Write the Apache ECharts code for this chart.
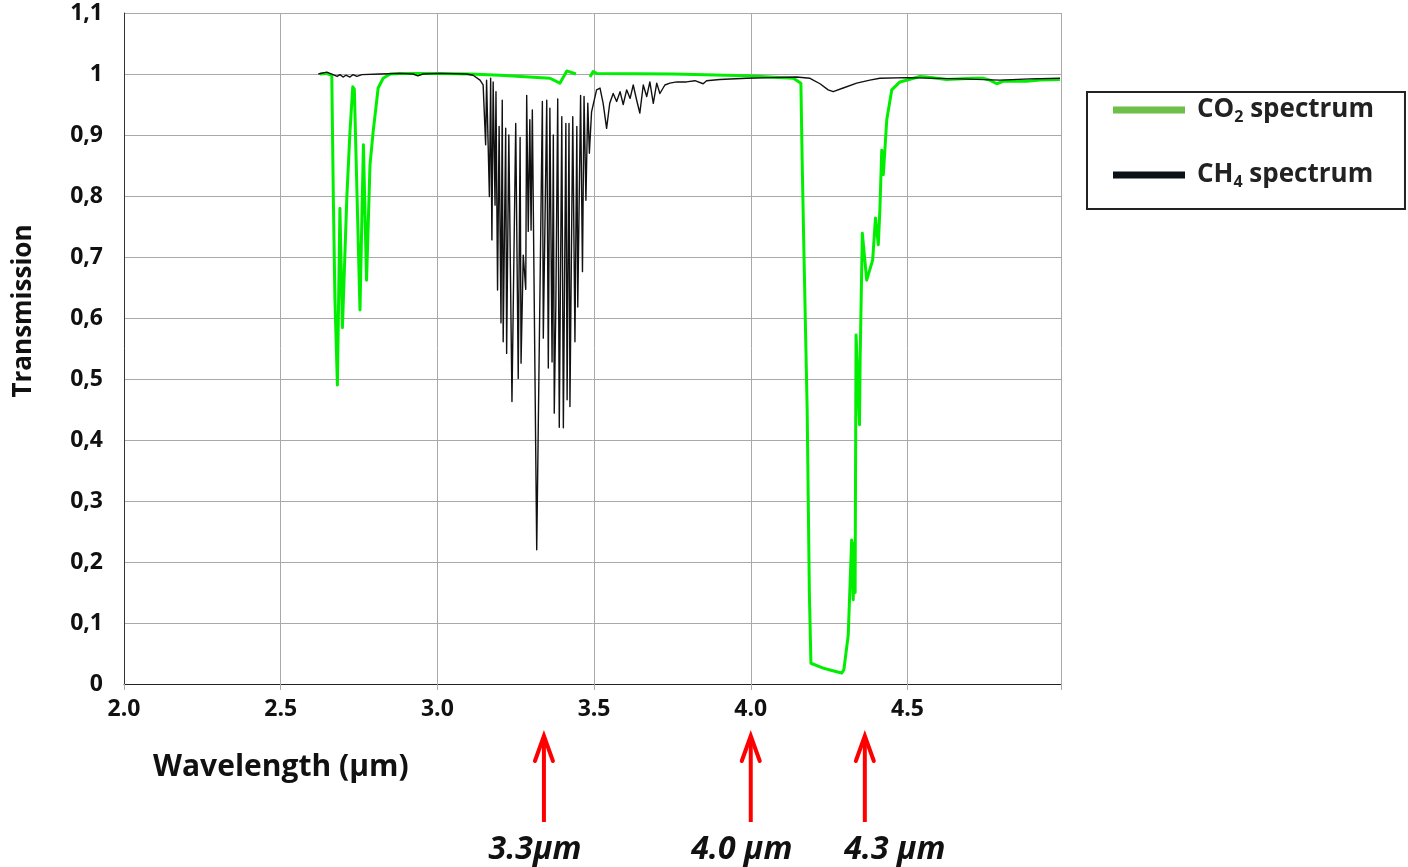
<!DOCTYPE html>
<html>
<head>
<meta charset="utf-8">
<script src="https://cdn.jsdelivr.net/npm/echarts@6/dist/echarts.min.js"></script>
<style>html,body{margin:0;padding:0;background:#fff}#c{width:1408px;height:867px}</style>
</head>
<body>
<div id="c"></div>
<script>
// ---- data (wavelength in µm, transmission) ----
const co2Wavelength = [2.625, 2.645, 2.663, 2.668, 2.673, 2.681, 2.689, 2.697, 2.711, 2.721, 2.730, 2.735, 2.753, 2.764, 2.774, 2.785, 2.795, 2.811, 2.827, 2.849, 2.881, 3.000, 3.104, 3.200, 3.359, 3.391, 3.413, 3.442, 3.465, 3.487, 3.497, 3.508, 3.752, 3.987, 4.136, 4.160, 4.164, 4.170, 4.180, 4.187, 4.192, 4.231, 4.253, 4.290, 4.297, 4.311, 4.322, 4.327, 4.330, 4.333, 4.336, 4.347, 4.349, 4.356, 4.370, 4.389, 4.398, 4.407, 4.412, 4.418, 4.423, 4.434, 4.450, 4.476, 4.540, 4.561, 4.625, 4.709, 4.741, 4.763, 4.785, 4.805, 4.880, 4.923, 4.987];
const co2Transmission = [1.000, 1.001, 0.998, 0.797, 0.633, 0.490, 0.780, 0.584, 0.797, 0.905, 0.979, 0.975, 0.613, 0.884, 0.662, 0.851, 0.905, 0.977, 0.993, 1.000, 1.001, 1.001, 1.000, 0.998, 0.993, 0.985, 1.005, 1.000, null, 0.995, 1.004, 1.001, 1.000, 0.997, 0.993, 0.985, 0.859, 0.700, 0.450, 0.150, 0.034, 0.026, 0.023, 0.018, 0.023, 0.080, 0.236, 0.138, 0.231, 0.150, 0.572, 0.425, 0.531, 0.739, 0.662, 0.695, 0.764, 0.720, 0.777, 0.875, 0.835, 0.925, 0.974, 0.987, 0.996, 0.995, 0.991, 0.993, 0.993, 0.990, 0.984, 0.988, 0.988, 0.990, 0.991];

const ch4Wavelength = [2.620, 2.647, 2.667, 2.680, 2.689, 2.699, 2.708, 2.721, 2.731, 2.743, 2.759, 2.817, 2.881, 2.922, 2.938, 2.954, 3.008, 3.093, 3.114, 3.136, 3.146, 3.154, 3.157, 3.166, 3.170, 3.174, 3.178, 3.184, 3.187, 3.192, 3.197, 3.203, 3.207, 3.210, 3.218, 3.221, 3.228, 3.238, 3.250, 3.258, 3.264, 3.267, 3.274, 3.282, 3.285, 3.290, 3.295, 3.299, 3.303, 3.317, 3.335, 3.338, 3.349, 3.354, 3.359, 3.366, 3.370, 3.373, 3.378, 3.384, 3.389, 3.397, 3.402, 3.410, 3.414, 3.420, 3.423, 3.432, 3.439, 3.445, 3.448, 3.457, 3.463, 3.468, 3.474, 3.480, 3.485, 3.492, 3.508, 3.519, 3.529, 3.540, 3.550, 3.561, 3.572, 3.583, 3.593, 3.604, 3.615, 3.625, 3.636, 3.646, 3.657, 3.668, 3.678, 3.689, 3.700, 3.710, 3.726, 3.742, 3.764, 3.795, 3.822, 3.848, 3.859, 3.901, 3.987, 4.072, 4.146, 4.189, 4.221, 4.247, 4.263, 4.295, 4.338, 4.380, 4.412, 4.497, 4.668, 4.795, 4.891, 4.987];
const ch4Transmission = [1.000, 1.003, 0.999, 0.996, 0.999, 0.995, 0.998, 0.995, 0.999, 0.996, 0.999, 1.000, 1.001, 1.000, 0.997, 1.000, 1.001, 1.000, 0.998, 0.990, 0.982, 0.884, 0.990, 0.799, 0.993, 0.728, 0.987, 0.785, 0.971, 0.646, 0.914, 0.592, 0.957, 0.561, 0.911, 0.542, 0.900, 0.463, 0.919, 0.501, 0.896, 0.526, 0.703, 0.647, 0.965, 0.742, 0.925, 0.744, 0.941, 0.220, 0.955, 0.567, 0.957, 0.518, 0.944, 0.528, 0.900, 0.444, 0.620, 0.959, 0.421, 0.930, 0.420, 0.919, 0.466, 0.919, 0.455, 0.930, 0.561, 0.914, 0.618, 0.965, 0.676, 0.963, 0.793, 0.952, 0.870, 0.938, 0.974, 0.977, 0.952, 0.911, 0.952, 0.968, 0.955, 0.971, 0.950, 0.974, 0.960, 0.982, 0.957, 0.936, 0.982, 0.963, 0.987, 0.952, 0.985, 0.968, 0.982, 0.985, 0.987, 0.987, 0.989, 0.984, 0.989, 0.991, 0.993, 0.994, 0.995, 0.993, 0.984, 0.974, 0.971, 0.977, 0.985, 0.990, 0.993, 0.994, 0.992, 0.990, 0.992, 0.993];

const seriesNames = ['CO2 spectrum', 'CH4 spectrum'];
const arrowWavelengths = [3.34, 4.0, 4.364];
const arrowLabels = ['3.3μm', '4.0 μm', '4.3 μm'];
const xAxisTitle = 'Wavelength (µm)';
const yAxisTitle = 'Transmission';

// ---- chart ----
const FONT = '"Open Sans", "Noto Sans", sans-serif';
const zip = (xs, ys) => xs.map((x, i) => [x, ys[i] === null ? '-' : ys[i]]);

const chart = echarts.init(document.getElementById('c'), null, {renderer: 'canvas'});

const option = {
  animation: false,
  backgroundColor: '#ffffff',
  grid: {left: 124, right: 347, top: 13, bottom: 183, containLabel: false},
  xAxis: {
    type: 'value', min: 2.0, max: 4.99, interval: 0.5,
    axisLine: {show: true, lineStyle: {color: '#222', width: 1}},
    axisTick: {show: true, length: 6, lineStyle: {color: '#aaa'}},
    splitLine: {show: true, lineStyle: {color: '#a9a9a9', width: 1}},
    axisLabel: {
      margin: 14, fontSize: 23, fontWeight: 'bold', color: '#111', fontFamily: FONT,
      formatter: v => Math.abs(v * 2 - Math.round(v * 2)) < 1e-6 ? v.toFixed(1) : ''
    }
  },
  yAxis: {
    type: 'value', min: 0, max: 1.1, interval: 0.1,
    axisLine: {show: true, lineStyle: {color: '#333', width: 1}},
    axisTick: {show: false},
    splitLine: {show: true, lineStyle: {color: '#a9a9a9', width: 1}},
    axisLabel: {
      margin: 21, fontSize: 23, fontWeight: 'bold', color: '#111', fontFamily: FONT,
      formatter: v => Math.abs(v - Math.round(v)) < 1e-9 ? String(Math.round(v)) : v.toFixed(1).replace('.', ',')
    }
  },
  legend: {
    orient: 'vertical', left: 1087, top: 92,
    padding: [5, 31, 19, 26],
    itemWidth: 72, itemHeight: 7, itemGap: 37,
    icon: 'rect',
    borderColor: '#222', borderWidth: 2,
    data: [
      {name: seriesNames[0], itemStyle: {color: '#6dbf47'}},
      {name: seriesNames[1], itemStyle: {color: '#0b1117'}}
    ],
    formatter: name => name === seriesNames[0] ? '{f|CO}{s|2}{a| spectrum}' : '{f|CH}{s|4}{a| spectrum}',
    textStyle: {
      rich: {
        f: {fontSize: 26, fontWeight: 'bold', color: '#222', fontFamily: FONT, lineHeight: 30, padding: [0, 0, 0, 7]},
        a: {fontSize: 26, fontWeight: 'bold', color: '#222', fontFamily: FONT, lineHeight: 30},
        s: {fontSize: 16, fontWeight: 'bold', color: '#222', fontFamily: FONT, lineHeight: 30, verticalAlign: 'bottom', padding: [12, 0, 0, 0]}
      }
    }
  },
  series: [
    {
      name: seriesNames[0], type: 'line', data: zip(co2Wavelength, co2Transmission),
      showSymbol: false, symbol: 'none', connectNulls: false,
      lineStyle: {color: '#00ee00', width: 3, join: 'round'},
      itemStyle: {color: '#6dbf47'}, z: 2
    },
    {
      name: seriesNames[1], type: 'line', data: zip(ch4Wavelength, ch4Transmission),
      showSymbol: false, symbol: 'none',
      lineStyle: {color: '#111111', width: 1.4, join: 'round'},
      itemStyle: {color: '#0b1117'}, z: 3
    }
  ]
};
chart.setOption(option);

// ---- annotations ----
const graphics = [
  {type: 'text', x: 24, y: 311, rotation: Math.PI / 2,
   style: {text: yAxisTitle, font: 'bold 26px ' + FONT, fill: '#111', textAlign: 'center', textVerticalAlign: 'middle'}},
  {type: 'text', x: 153, y: 767,
   style: {text: xAxisTitle, font: 'bold 30px ' + FONT, fill: '#111', textAlign: 'left', textVerticalAlign: 'middle'}}
];
const labelOffsets = [-9, -9, 30];
arrowWavelengths.forEach((w, i) => {
  const px = chart.convertToPixel({xAxisIndex: 0}, w);
  graphics.push({type: 'line', shape: {x1: px, y1: 822, x2: px, y2: 738},
    style: {stroke: '#ff0000', lineWidth: 4}});
  graphics.push({type: 'polyline', shape: {points: [[px - 9, 761], [px, 736], [px + 9, 761]]},
    style: {stroke: '#ff0000', lineWidth: 4, fill: null, lineJoin: 'miter', lineCap: 'round'}});
  graphics.push({type: 'text', x: px + labelOffsets[i], y: 850,
    style: {text: arrowLabels[i], font: 'italic bold 32px ' + FONT, fill: '#111', textAlign: 'center', textVerticalAlign: 'middle'}});
});
chart.setOption({graphic: graphics});
</script>
</body>
</html>
